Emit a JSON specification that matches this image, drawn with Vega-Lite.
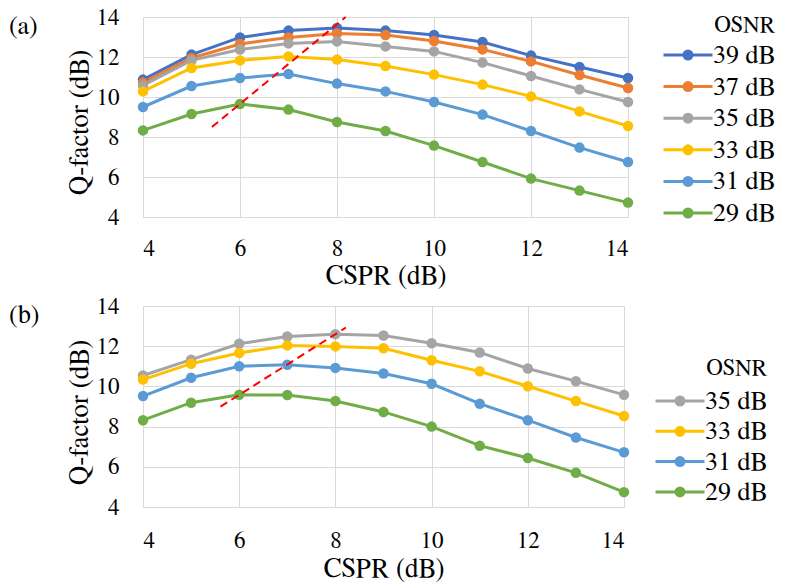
{
  "$schema": "https://vega.github.io/schema/vega-lite/v6.json",
  "padding": {"left": 8, "top": 5, "right": 0, "bottom": 0},
  "spacing": 5,
  "config": {
    "view": {"stroke": "#d9d9d9", "strokeWidth": 1},
    "font": "FreeSerif, DejaVu Serif",
    "axis": {
      "labelFont": "FreeSerif, DejaVu Serif", "labelFontSize": 23, "labelColor": "#000", "labelOverlap": false,
      "titleFont": "FreeSerif, DejaVu Serif", "titleFontWeight": "normal", "titleColor": "#000",
      "ticks": false, "domain": false, "gridColor": "#d9d9d9", "gridWidth": 1
    },
    "legend": {
      "labelFont": "FreeSerif, DejaVu Serif", "labelFontSize": 26, "labelColor": "#000",
      "titleFont": "FreeSerif, DejaVu Serif", "titleFontSize": 23, "titleFontWeight": "normal", "titleColor": "#000"
    },
    "title": {"font": "FreeSerif, DejaVu Serif", "fontSize": 26, "fontWeight": "normal", "color": "#000"}
  },
  "datasets": {
    "curves": [
      {"p":"a","osnr":"39 dB","cspr":4,"q":10.87},{"p":"a","osnr":"39 dB","cspr":5,"q":12.12},{"p":"a","osnr":"39 dB","cspr":6,"q":12.98},{"p":"a","osnr":"39 dB","cspr":7,"q":13.32},{"p":"a","osnr":"39 dB","cspr":8,"q":13.45},{"p":"a","osnr":"39 dB","cspr":9,"q":13.32},{"p":"a","osnr":"39 dB","cspr":10,"q":13.1},{"p":"a","osnr":"39 dB","cspr":11,"q":12.75},{"p":"a","osnr":"39 dB","cspr":12,"q":12.07},{"p":"a","osnr":"39 dB","cspr":13,"q":11.5},{"p":"a","osnr":"39 dB","cspr":14,"q":10.95},
      {"p":"a","osnr":"37 dB","cspr":4,"q":10.72},{"p":"a","osnr":"37 dB","cspr":5,"q":11.95},{"p":"a","osnr":"37 dB","cspr":6,"q":12.65},{"p":"a","osnr":"37 dB","cspr":7,"q":12.98},{"p":"a","osnr":"37 dB","cspr":8,"q":13.18},{"p":"a","osnr":"37 dB","cspr":9,"q":13.1},{"p":"a","osnr":"37 dB","cspr":10,"q":12.8},{"p":"a","osnr":"37 dB","cspr":11,"q":12.38},{"p":"a","osnr":"37 dB","cspr":12,"q":11.78},{"p":"a","osnr":"37 dB","cspr":13,"q":11.1},{"p":"a","osnr":"37 dB","cspr":14,"q":10.45},
      {"p":"a","osnr":"35 dB","cspr":4,"q":10.58},{"p":"a","osnr":"35 dB","cspr":5,"q":11.83},{"p":"a","osnr":"35 dB","cspr":6,"q":12.37},{"p":"a","osnr":"35 dB","cspr":7,"q":12.68},{"p":"a","osnr":"35 dB","cspr":8,"q":12.78},{"p":"a","osnr":"35 dB","cspr":9,"q":12.53},{"p":"a","osnr":"35 dB","cspr":10,"q":12.28},{"p":"a","osnr":"35 dB","cspr":11,"q":11.72},{"p":"a","osnr":"35 dB","cspr":12,"q":11.05},{"p":"a","osnr":"35 dB","cspr":13,"q":10.38},{"p":"a","osnr":"35 dB","cspr":14,"q":9.75},
      {"p":"a","osnr":"33 dB","cspr":4,"q":10.28},{"p":"a","osnr":"33 dB","cspr":5,"q":11.45},{"p":"a","osnr":"33 dB","cspr":6,"q":11.83},{"p":"a","osnr":"33 dB","cspr":7,"q":12.03},{"p":"a","osnr":"33 dB","cspr":8,"q":11.87},{"p":"a","osnr":"33 dB","cspr":9,"q":11.55},{"p":"a","osnr":"33 dB","cspr":10,"q":11.12},{"p":"a","osnr":"33 dB","cspr":11,"q":10.62},{"p":"a","osnr":"33 dB","cspr":12,"q":10.03},{"p":"a","osnr":"33 dB","cspr":13,"q":9.28},{"p":"a","osnr":"33 dB","cspr":14,"q":8.55},
      {"p":"a","osnr":"31 dB","cspr":4,"q":9.5},{"p":"a","osnr":"31 dB","cspr":5,"q":10.55},{"p":"a","osnr":"31 dB","cspr":6,"q":10.95},{"p":"a","osnr":"31 dB","cspr":7,"q":11.15},{"p":"a","osnr":"31 dB","cspr":8,"q":10.67},{"p":"a","osnr":"31 dB","cspr":9,"q":10.28},{"p":"a","osnr":"31 dB","cspr":10,"q":9.75},{"p":"a","osnr":"31 dB","cspr":11,"q":9.12},{"p":"a","osnr":"31 dB","cspr":12,"q":8.3},{"p":"a","osnr":"31 dB","cspr":13,"q":7.47},{"p":"a","osnr":"31 dB","cspr":14,"q":6.75},
      {"p":"a","osnr":"29 dB","cspr":4,"q":8.33},{"p":"a","osnr":"29 dB","cspr":5,"q":9.15},{"p":"a","osnr":"29 dB","cspr":6,"q":9.65},{"p":"a","osnr":"29 dB","cspr":7,"q":9.37},{"p":"a","osnr":"29 dB","cspr":8,"q":8.75},{"p":"a","osnr":"29 dB","cspr":9,"q":8.3},{"p":"a","osnr":"29 dB","cspr":10,"q":7.57},{"p":"a","osnr":"29 dB","cspr":11,"q":6.75},{"p":"a","osnr":"29 dB","cspr":12,"q":5.92},{"p":"a","osnr":"29 dB","cspr":13,"q":5.32},{"p":"a","osnr":"29 dB","cspr":14,"q":4.72},
      {"p":"b","osnr":"35 dB","cspr":4,"q":10.54},{"p":"b","osnr":"35 dB","cspr":5,"q":11.33},{"p":"b","osnr":"35 dB","cspr":6,"q":12.12},{"p":"b","osnr":"35 dB","cspr":7,"q":12.48},{"p":"b","osnr":"35 dB","cspr":8,"q":12.6},{"p":"b","osnr":"35 dB","cspr":9,"q":12.53},{"p":"b","osnr":"35 dB","cspr":10,"q":12.15},{"p":"b","osnr":"35 dB","cspr":11,"q":11.69},{"p":"b","osnr":"35 dB","cspr":12,"q":10.89},{"p":"b","osnr":"35 dB","cspr":13,"q":10.26},{"p":"b","osnr":"35 dB","cspr":14,"q":9.58},
      {"p":"b","osnr":"33 dB","cspr":4,"q":10.34},{"p":"b","osnr":"33 dB","cspr":5,"q":11.13},{"p":"b","osnr":"33 dB","cspr":6,"q":11.66},{"p":"b","osnr":"33 dB","cspr":7,"q":12.04},{"p":"b","osnr":"33 dB","cspr":8,"q":11.99},{"p":"b","osnr":"33 dB","cspr":9,"q":11.9},{"p":"b","osnr":"33 dB","cspr":10,"q":11.3},{"p":"b","osnr":"33 dB","cspr":11,"q":10.75},{"p":"b","osnr":"33 dB","cspr":12,"q":10.01},{"p":"b","osnr":"33 dB","cspr":13,"q":9.27},{"p":"b","osnr":"33 dB","cspr":14,"q":8.53},
      {"p":"b","osnr":"31 dB","cspr":4,"q":9.52},{"p":"b","osnr":"31 dB","cspr":5,"q":10.43},{"p":"b","osnr":"31 dB","cspr":6,"q":11.0},{"p":"b","osnr":"31 dB","cspr":7,"q":11.08},{"p":"b","osnr":"31 dB","cspr":8,"q":10.92},{"p":"b","osnr":"31 dB","cspr":9,"q":10.64},{"p":"b","osnr":"31 dB","cspr":10,"q":10.13},{"p":"b","osnr":"31 dB","cspr":11,"q":9.14},{"p":"b","osnr":"31 dB","cspr":12,"q":8.32},{"p":"b","osnr":"31 dB","cspr":13,"q":7.46},{"p":"b","osnr":"31 dB","cspr":14,"q":6.72},
      {"p":"b","osnr":"29 dB","cspr":4,"q":8.32},{"p":"b","osnr":"29 dB","cspr":5,"q":9.19},{"p":"b","osnr":"29 dB","cspr":6,"q":9.58},{"p":"b","osnr":"29 dB","cspr":7,"q":9.57},{"p":"b","osnr":"29 dB","cspr":8,"q":9.27},{"p":"b","osnr":"29 dB","cspr":9,"q":8.73},{"p":"b","osnr":"29 dB","cspr":10,"q":8.0},{"p":"b","osnr":"29 dB","cspr":11,"q":7.05},{"p":"b","osnr":"29 dB","cspr":12,"q":6.44},{"p":"b","osnr":"29 dB","cspr":13,"q":5.7},{"p":"b","osnr":"29 dB","cspr":14,"q":4.74}
    ],
    "guides": [
      {"p":"a","cspr":5.42,"q":8.5},{"p":"a","cspr":8.18,"q":14},
      {"p":"b","cspr":5.61,"q":8.99},{"p":"b","cspr":8.22,"q":12.93}
    ]
  },
  "resolve": {"scale": {"color": "shared"}, "legend": {"color": "independent"}},
  "vconcat": [
    {
      "width": 485, "height": 200,
      "title": {"text": "(a)", "anchor": "start", "frame": "bounds", "offset": -33, "dx": -56, "baseline": "top"},
      "layer": [
        {
          "data": {"name": "curves"},
          "transform": [{"filter": "datum.p === 'a'"}],
          "mark": {"type": "line", "strokeWidth": 3},
          "encoding": {
            "x": {"field": "cspr", "type": "quantitative", "scale": {"domain": [4, 14], "nice": false, "zero": false}, "axis": {"values": [4, 6, 8, 10, 12, 14], "tickCount": 6, "labelOverlap": false, "title": "CSPR (dB)", "titleFontSize": 27, "labelPadding": 20, "titlePadding": 2}},
            "y": {"field": "q", "type": "quantitative", "scale": {"domain": [4, 14], "nice": false, "zero": false}, "axis": {"values": [4, 6, 8, 10, 12, 14], "tickCount": 6, "labelOverlap": false, "title": "Q-factor (dB)", "titleFontSize": 27, "titleY": 105, "labelPadding": 24, "titlePadding": 3}},
            "color": {
              "field": "osnr", "type": "nominal",
              "scale": {"domain": ["39 dB", "37 dB", "35 dB", "33 dB", "31 dB", "29 dB"], "range": ["#4472C4", "#ED7D31", "#A5A5A5", "#FFC000", "#5B9BD5", "#70AD47"]},
              "legend": {
                "orient": "none", "legendX": 532, "legendY": -3, "title": "OSNR", "titleAnchor": "end", "titlePadding": 5,
                "symbolType": "M-4.9,0H4.9M-0.8,0A0.8,0.8,0,1,1,0.8,0A0.8,0.8,0,1,1,-0.8,0Z",
                "symbolSize": 100, "symbolStrokeWidth": 3, "labelOffset": 12, "rowPadding": 5.6, "padding": 0,
                "encode": {"symbols": {"update": {"fill": {"scale": "color", "field": "value"}, "opacity": {"value": 1}}}}
              }
            }
          }
        },
        {
          "data": {"name": "curves"},
          "transform": [{"filter": "datum.p === 'a'"}],
          "mark": {"type": "point", "filled": true, "shape": "circle", "size": 110, "opacity": 1},
          "encoding": {
            "x": {"field": "cspr", "type": "quantitative"},
            "y": {"field": "q", "type": "quantitative"},
            "color": {"field": "osnr", "type": "nominal"}
          }
        },
        {
          "data": {"name": "guides"},
          "transform": [{"filter": "datum.p === 'a'"}],
          "mark": {"type": "line", "color": "#FF0000", "strokeWidth": 2, "strokeDash": [8, 5]},
          "encoding": {
            "x": {"field": "cspr", "type": "quantitative"},
            "y": {"field": "q", "type": "quantitative"}
          }
        }
      ]
    },
    {
      "width": 481, "height": 201,
      "title": {"text": "(b)", "anchor": "start", "frame": "bounds", "offset": -33, "dx": -56, "baseline": "top"},
      "layer": [
        {
          "data": {"name": "curves"},
          "transform": [{"filter": "datum.p === 'b'"}],
          "mark": {"type": "line", "strokeWidth": 3},
          "encoding": {
            "x": {"field": "cspr", "type": "quantitative", "scale": {"domain": [4, 14], "nice": false, "zero": false}, "axis": {"values": [4, 6, 8, 10, 12, 14], "tickCount": 6, "labelOverlap": false, "title": "CSPR (dB)", "titleFontSize": 27, "labelPadding": 22, "titlePadding": 3}},
            "y": {"field": "q", "type": "quantitative", "scale": {"domain": [4, 14], "nice": false, "zero": false}, "axis": {"values": [4, 6, 8, 10, 12, 14], "tickCount": 6, "labelOverlap": false, "title": "Q-factor (dB)", "titleFontSize": 27, "titleY": 106, "labelPadding": 24, "titlePadding": 3}},
            "color": {
              "field": "osnr", "type": "nominal",
              "legend": {
                "orient": "none", "legendX": 524, "legendY": 51, "title": "OSNR", "titleAnchor": "end", "titlePadding": 8,
                "values": ["35 dB", "33 dB", "31 dB", "29 dB"],
                "symbolType": "M-4.9,0H4.9M-0.8,0A0.8,0.8,0,1,1,0.8,0A0.8,0.8,0,1,1,-0.8,0Z",
                "symbolSize": 100, "symbolStrokeWidth": 3, "labelOffset": 12, "rowPadding": 4.3, "padding": 0,
                "encode": {"symbols": {"update": {"fill": {"scale": "color", "field": "value"}, "opacity": {"value": 1}}}}
              }
            }
          }
        },
        {
          "data": {"name": "curves"},
          "transform": [{"filter": "datum.p === 'b'"}],
          "mark": {"type": "point", "filled": true, "shape": "circle", "size": 110, "opacity": 1},
          "encoding": {
            "x": {"field": "cspr", "type": "quantitative"},
            "y": {"field": "q", "type": "quantitative"},
            "color": {"field": "osnr", "type": "nominal"}
          }
        },
        {
          "data": {"name": "guides"},
          "transform": [{"filter": "datum.p === 'b'"}],
          "mark": {"type": "line", "color": "#FF0000", "strokeWidth": 2, "strokeDash": [8, 5]},
          "encoding": {
            "x": {"field": "cspr", "type": "quantitative"},
            "y": {"field": "q", "type": "quantitative"}
          }
        }
      ]
    }
  ]
}
